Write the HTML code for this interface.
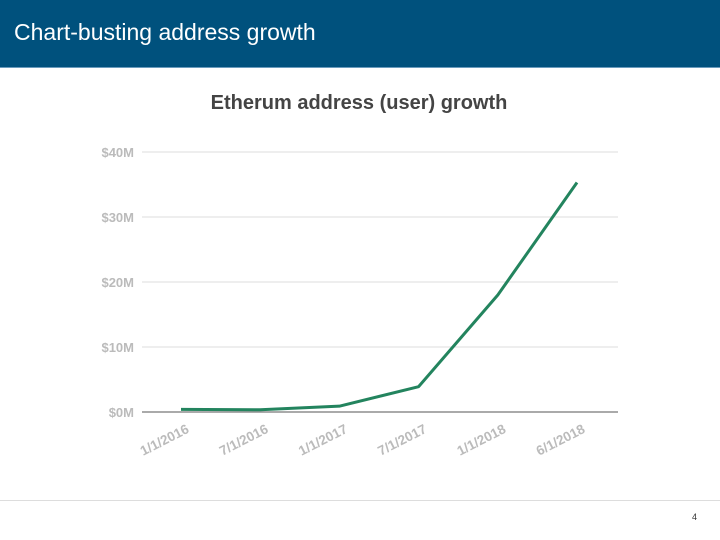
<!DOCTYPE html>
<html><head><meta charset="utf-8"><style>
body{margin:0;width:720px;height:540px;background:#fff;overflow:hidden;font-family:"Liberation Sans",Arial,sans-serif}
#hdr{position:absolute;left:0;top:0;width:720px;height:67px;background:#00517d;border-bottom:1px solid #6a9bbd}
#hdr span{position:absolute;left:14px;top:19px;color:#fff;font-size:23px}
#foot{position:absolute;left:0;top:500px;width:720px;height:1px;background:#ddd}
#pn{position:absolute;left:692px;top:512px;font-size:9px;color:#333}
</style></head><body>
<div id="hdr"><span>Chart-busting address growth</span></div>
<svg id="chart" width="720" height="540" style="position:absolute;left:0;top:0">
<text x="359" y="109" text-anchor="middle" font-size="20" font-weight="bold" fill="#444">Etherum address (user) growth</text>
<g id="grid"></g><g id="xl"></g><polyline id="line" fill="none" stroke="#23845e" stroke-width="3" stroke-linejoin="round"></polyline>
</svg>
<div id="foot"></div>
<div id="pn">4</div>
<script>
const categories=["1/1/2016","7/1/2016","1/1/2017","7/1/2017","1/1/2018","6/1/2018"];
const values=[0.4,0.35,0.9,3.9,18,35.3];
const yTicks=[0,10,20,30,40];
const yLabels=["$0M","$10M","$20M","$30M","$40M"];
const NS="http://www.w3.org/2000/svg";
const x=i=>181+i*79.2, y=v=>412-v*6.5;
const g=document.getElementById('grid'), xl=document.getElementById('xl');
yTicks.forEach((t,i)=>{
 const l=document.createElementNS(NS,'line');
 
 
 l.setAttribute('x1',142);l.setAttribute('x2',618);l.setAttribute('y1',y(t));l.setAttribute('y2',y(t));
 l.setAttribute('stroke',t===0?'#777':'#ddd');l.setAttribute('stroke-width',t===0?1.2:1);g.appendChild(l);
 const tx=document.createElementNS(NS,'text');
 
 
 tx.setAttribute('x',134);tx.setAttribute('y',y(t)+5);tx.setAttribute('text-anchor','end');
 tx.setAttribute('font-size','13');tx.setAttribute('font-weight','bold');tx.setAttribute('fill','#bbb');
 tx.textContent=yLabels[i];g.appendChild(tx);
});
categories.forEach((c,i)=>{
 const tx=document.createElementNS(NS,'text');
 
 
 const px=x(i)+9,py=432;
 tx.setAttribute('x',px);tx.setAttribute('y',py);tx.setAttribute('text-anchor','end');
 tx.setAttribute('transform',`rotate(-27 ${px} ${py})`);
 tx.setAttribute('font-size','13.5');tx.setAttribute('font-weight','bold');tx.setAttribute('fill','#bbb');
 tx.textContent=c;xl.appendChild(tx);
});
document.getElementById('line').setAttribute('points',values.map((v,i)=>x(i)+','+y(v)).join(' '));
</script>
</body></html>
